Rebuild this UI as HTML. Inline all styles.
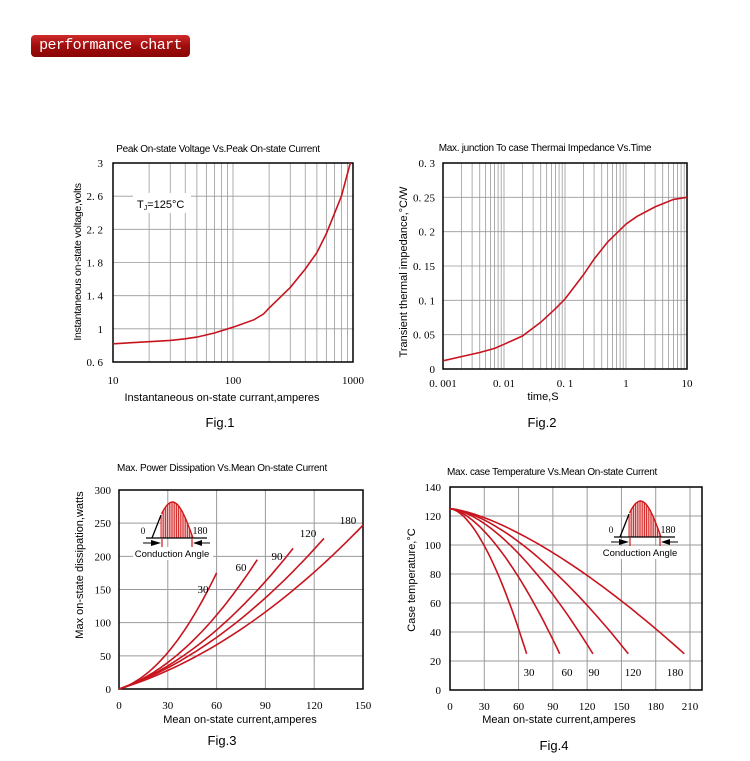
<!DOCTYPE html>
<html><head><meta charset="utf-8"><style>
body{margin:0;background:#fff;width:750px;height:761px;overflow:hidden;position:relative;font-family:"Liberation Sans",sans-serif}
.badge{position:absolute;left:31px;top:35px;width:159px;height:22px;border-radius:4px;background:linear-gradient(#d02a2a,#a00d0d 50%,#8a0606);color:#fff;font-family:"Liberation Mono",monospace;font-size:15px;line-height:22px;text-align:center;letter-spacing:-0.6px;white-space:nowrap;overflow:hidden}
svg{position:absolute;left:0;top:0}
</style></head><body>
<div class="badge">performance chart</div>
<svg id="s" width="750" height="761" xmlns="http://www.w3.org/2000/svg" font-family="Liberation Sans, sans-serif"></svg>
<script>
var s=document.getElementById('s'),h='';
function L(x1,y1,x2,y2,c,w){h+='<line x1="'+x1+'" y1="'+y1+'" x2="'+x2+'" y2="'+y2+'" stroke="'+c+'" stroke-width="'+w+'"/>';}
function T(x,y,t,sz,a,f,extra){h+='<text x="'+x+'" y="'+y+'" font-size="'+sz+'" text-anchor="'+(a||'middle')+'"'+(f?' font-family="Liberation Serif,serif"':'')+(extra||'')+'>'+t+'</text>';}
function P(pts,c,w){h+='<polyline fill="none" stroke="'+(c||'#c8141e')+'" stroke-width="'+(w||1.6)+'" points="'+pts.map(function(p){return p[0].toFixed(1)+','+p[1].toFixed(1)}).join(' ')+'"/>';}
var G='#9a9a9a';
// Fig1
var x0=113,x1=353,y0=163,y1=362;
for(var d=0;d<2;d++)for(var k=2;k<=9;k++){var x=x0+120*(d+Math.log10(k));L(x,y0,x,y1,G,0.8);}
L(233,y0,233,y1,G,0.8);
for(var i=1;i<6;i++){var y=y0+i*(y1-y0)/6;L(x0,y,x1,y,G,0.8);}
h+='<rect x="'+x0+'" y="'+y0+'" width="'+(x1-x0)+'" height="'+(y1-y0)+'" fill="none" stroke="#000" stroke-width="1.5"/>';
h+='<rect x="133" y="193" width="58" height="20" fill="#fff"/>';
T(137,208,'T<tspan font-size="7" dy="2">J</tspan><tspan dy="-2">=125°C</tspan>',11,'start');
var ys=['3','2. 6','2. 2','1. 8','1. 4','1','0. 6'];
for(var i=0;i<7;i++)T(103,y0+4+i*(y1-y0)/6,ys[i],11,'end',1);
T(113,384,'10',11,'middle',1);T(233,384,'100',11,'middle',1);T(353,384,'1000',11,'middle',1);
T(218,152,'Peak On-state Voltage Vs.Peak On-state Current',10,'middle',0,' letter-spacing="-0.3"');
T(222,401,'Instantaneous on-state currant,amperes',11);
T(81,262,'Instantaneous on-state voltage,volts',10.5,'middle',0,' transform="rotate(-90 81 262)" letter-spacing="-0.3"');
T(220,427,'Fig.1',13);
var d1=[[10,.82],[20,.845],[30,.86],[40,.88],[50,.9],[70,.95],[100,1.02],[150,1.11],[180,1.18],[200,1.25],[300,1.5],[400,1.72],[500,1.92],[600,2.15],[800,2.6],[950,3.0]];
P(d1.map(function(p){return [x0+120*Math.log10(p[0]/10),y1-(p[1]-.6)/2.4*(y1-y0)]}));
// Fig2
x0=443;x1=687;y0=163;y1=369;var dw=(x1-x0)/4;
for(var d=0;d<4;d++)for(var k=1;k<=9;k++){if(d==0&&k==1)continue;var x=x0+dw*(d+Math.log10(k));L(x,y0,x,y1,G,0.8);}
for(var i=1;i<6;i++){var y=y0+i*(y1-y0)/6;L(x0,y,x1,y,G,0.8);}
h+='<rect x="'+x0+'" y="'+y0+'" width="'+(x1-x0)+'" height="'+(y1-y0)+'" fill="none" stroke="#000" stroke-width="1.5"/>';
ys=['0. 3','0. 25','0. 2','0. 15','0. 1','0. 05','0'];
for(var i=0;i<7;i++)T(435,y0+4+i*(y1-y0)/6,ys[i],11,'end',1);
var xs=['0. 001','0. 01','0. 1','1','10'];
for(var i=0;i<5;i++)T(x0+i*dw,387,xs[i],11,'middle',1);
T(545,151,'Max. junction To case Thermai Impedance Vs.Time',10,'middle',0,' letter-spacing="-0.3"');
T(543,400,'time,S',11);
T(407,272,'Transient thermal impedance,°C/W',11,'middle',0,' transform="rotate(-90 407 272)"');
T(542,427,'Fig.2',13);
var d2=[[.001,.012],[.002,.018],[.004,.024],[.007,.03],[.01,.036],[.02,.048],[.04,.068],[.07,.088],[.1,.102],[.2,.137],[.3,.16],[.5,.185],[1,.211],[1.5,.222],[3,.236],[6,.247],[10,.25]];
P(d2.map(function(p){return [x0+dw*(Math.log10(p[0])+3),y1-p[1]/.3*(y1-y0)]}));
// Fig3
x0=119;x1=363;y0=490;y1=689;
for(var i=1;i<5;i++){var x=x0+i*(x1-x0)/5;L(x,y0,x,y1,G,1);}
for(var i=1;i<6;i++){var y=y0+i*(y1-y0)/6;L(x0,y,x1,y,G,1);}
h+='<rect x="'+x0+'" y="'+y0+'" width="'+(x1-x0)+'" height="'+(y1-y0)+'" fill="none" stroke="#000" stroke-width="1.5"/>';
ys=['300','250','200','150','100','50','0'];
for(var i=0;i<7;i++)T(111,y0+4+i*(y1-y0)/6,ys[i],11,'end',1);
for(var i=0;i<6;i++)T(x0+i*(x1-x0)/5,709,String(i*30),11,'middle',1);
T(222,471,'Max. Power Dissipation Vs.Mean On-state Current',10,'middle',0,' letter-spacing="-0.3"');
T(240,723,'Mean on-state current,amperes',11);
T(83,565,'Max on-state dissipation,watts',11,'middle',0,' transform="rotate(-90 83 565)"');
T(222,745,'Fig.3',13);
var c3=[[.75,.0361,60],[.809,.01747,85],[.849,.01058,107],[.837,.00766,126],[.755,.00594,150]];
c3.forEach(function(c){var pts=[];for(var I=0;I<=c[2]+.01;I+=c[2]/40){var P_=c[0]*I+c[1]*I*I;pts.push([x0+I/150*(x1-x0),y1-P_/300*(y1-y0)]);}P(pts);});
[[203,593,'30'],[241,571,'60'],[277,560,'90'],[308,537,'120'],[348,524,'180']].forEach(function(t){T(t[0],t[1],t[2],11,'middle',1);});
function inset(dx,dy){var b=538+dy;
 var pts=[];for(var i=0;i<=30;i++){var x=152+i*(193-152)/30;var th=(x-152)/(193-152)*Math.PI;pts.push([x+dx,b-Math.sin(th)*36]);}
 var fill=pts.filter(function(p){return p[0]>=161+dx});
 var poly=[[161+dx,b]].concat(fill).concat([[193+dx,b]]);
 h+='<polygon fill="#f4c0c0" stroke="none" points="'+poly.map(function(p){return p[0].toFixed(1)+','+p[1].toFixed(1)}).join(' ')+'"/>';
 for(var x=161;x<=192;x+=2.2){var th=(x-152)/(193-152)*Math.PI;L(x+dx,b,x+dx,b-Math.sin(th)*36,'#d01818',0.9);}
 P(fill,'#d01818',1.4);
 L(152+dx,b,161+dx,b-Math.sin(9/41*Math.PI)*36,'#000',1.3);
 L(146+dx,b,207+dx,b,'#000',1.2);
 T(143+dx,b-4,'0',9,'middle',1);T(200+dx,b-4,'180',10,'middle',1);
 L(143+dx,b+5,151+dx,b+5,'#000',1);L(201+dx,b+5,210+dx,b+5,'#000',1);
 h+='<polygon points="'+(151+dx)+','+(b+2)+' '+(161+dx)+','+(b+5)+' '+(151+dx)+','+(b+8)+'"/>';
 h+='<polygon points="'+(202+dx)+','+(b+2)+' '+(193+dx)+','+(b+5)+' '+(202+dx)+','+(b+8)+'"/>';
 L(162+dx,b+1,162+dx,b+9,'#d01818',1.2);L(192+dx,b+1,192+dx,b+9,'#d01818',1.2);
 h+='<rect x="'+(133+dx)+'" y="'+(b+9)+'" width="80" height="13" fill="#fff"/>';
 T(172+dx,b+19,'Conduction Angle',9.5);
}
inset(0,0);
// Fig4
x0=450;x1=702;y0=487;y1=690;var sx=(690-450)/210;
for(var i=1;i<8;i++){var x=x0+i*30*sx;L(x,y0,x,y1,G,1);}
for(var i=1;i<7;i++){var y=y0+i*(y1-y0)/7;L(x0,y,x1,y,G,1);}
h+='<rect x="'+x0+'" y="'+y0+'" width="'+(x1-x0)+'" height="'+(y1-y0)+'" fill="none" stroke="#000" stroke-width="1.5"/>';
for(var i=0;i<8;i++)T(441,y0+4+i*(y1-y0)/7,String(140-20*i),11,'end',1);
for(var i=0;i<8;i++)T(x0+i*30*sx,710,String(i*30),11,'middle',1);
T(552,475,'Max. case Temperature Vs.Mean On-state Current',10,'middle',0,' letter-spacing="-0.3"');
T(559,723,'Mean on-state current,amperes',11);
T(415,580,'Case temperature,°C',11,'middle',0,' transform="rotate(-90 415 580)"');
T(554,750,'Fig.4',13);
[[67,1.7],[96,1.6],[125,1.6],[156,1.55],[205,1.45]].forEach(function(c){var pts=[];for(var i=0;i<=40;i++){var I=c[0]*i/40;var Tc=125-100*Math.pow(I/c[0],c[1]);pts.push([x0+I*sx,y1-Tc/140*(y1-y0)]);}P(pts);});
[[529,'30'],[567,'60'],[594,'90'],[633,'120'],[675,'180']].forEach(function(t){T(t[0],676,t[1],11,'middle',1);});
inset(468,-1);
s.innerHTML=h;
</script>
</body></html>
